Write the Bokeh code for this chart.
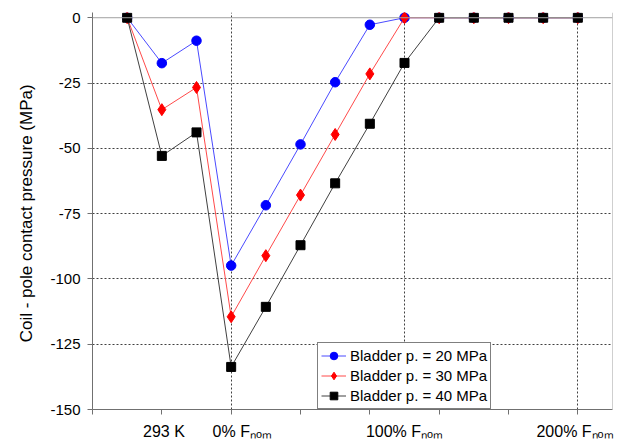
from bokeh.plotting import figure
from bokeh.models import (FixedTicker, Range1d, Legend, LegendItem, Span)
from bokeh.embed import file_html
from bokeh.resources import INLINE

# ---- data ----
steps = list(range(14))  # load steps: cool-down stages, then Fnom fractions
p20 = [0, -17.4, -8.8, -94.9, -71.8, -48.5, -24.7, -2.7, 0, 0, 0, 0, 0, 0]
p30 = [0, -35.2, -26.7, -114.5, -91.1, -67.9, -44.7, -21.5, 0, 0, 0, 0, 0, 0]
p40 = [0, -52.9, -43.9, -133.7, -110.7, -87.1, -63.4, -40.6, -17.3, 0, 0, 0, 0, 0]
series_labels = ["Bladder p. = 20 MPa", "Bladder p. = 30 MPa", "Bladder p. = 40 MPa"]
y_ticks = [0, -25, -50, -75, -100, -125, -150]
y_tick_labels = ["0", "-25", "-50", "-75", "-100", "-125", "-150"]
x_tick_pos = [1, 3, 8, 13]
x_tick_labels = ["293 K", "0% F\u2099\u2092\u2098", "100% F\u2099\u2092\u2098", "200% F\u2099\u2092\u2098"]

FONT = "Liberation Sans"

p = figure(width=616, height=442, output_backend="svg", toolbar_location=None,
           x_range=Range1d(-1, 14), y_range=Range1d(-150, 2),
           min_border_left=92, min_border_right=4, min_border_top=12,
           min_border_bottom=32)
p.background_fill_color = "white"
p.border_fill_color = "white"
p.outline_line_color = None

# axes
p.yaxis.ticker = FixedTicker(ticks=y_ticks)
p.yaxis.major_label_overrides = {t: s for t, s in zip(y_ticks, y_tick_labels)}
p.yaxis.major_label_text_font = FONT
p.yaxis.major_label_text_font_size = "15px"
p.yaxis.major_label_text_color = "black"
p.yaxis.major_label_standoff = 7
p.yaxis.major_tick_out = 5
p.yaxis.major_tick_in = 0
p.yaxis.minor_tick_line_color = None
p.yaxis.axis_line_color = "#707070"
p.yaxis.major_tick_line_color = "#707070"
p.yaxis.axis_label = "Coil - pole contact  pressure (MPa)"
p.yaxis.axis_label_text_font = FONT
p.yaxis.axis_label_text_font_size = "17px"
p.yaxis.axis_label_text_font_style = "normal"
p.yaxis.axis_label_text_color = "black"
p.yaxis.axis_label_standoff = 11

# label nudges (pixels converted to axis units: ~34.7 px per step)
label_nudge = [0.06, 0.32, 0.0, -0.08]
label_ticks = [x + n for x, n in zip(x_tick_pos, label_nudge)]
p.xaxis.ticker = FixedTicker(ticks=label_ticks, minor_ticks=[-1, 1, 3, 5, 7, 9, 11, 13])
p.xaxis.major_label_overrides = {t: s for t, s in zip(label_ticks, x_tick_labels)}
p.xaxis.major_label_text_font = FONT
p.xaxis.major_label_text_font_size = "16px"
p.xaxis.major_label_text_color = "black"
p.xaxis.major_label_standoff = 8
p.xaxis.major_tick_out = 0
p.xaxis.major_tick_in = 0
p.xaxis.major_tick_line_color = None
p.xaxis.minor_tick_out = 5
p.xaxis.minor_tick_in = 0
p.xaxis.minor_tick_line_color = "#707070"
p.xaxis.axis_line_color = "#707070"

# grids
p.ygrid.ticker = FixedTicker(ticks=[-25, -50, -75, -100, -125])
p.ygrid.grid_line_color = "#404040"
p.ygrid.grid_line_dash = "2 2"
p.ygrid.grid_line_width = 1
p.xgrid.ticker = FixedTicker(ticks=[3, 8, 13])
p.xgrid.grid_line_color = "#404040"
p.xgrid.grid_line_dash = "2 2"
p.xgrid.grid_line_width = 1

# frame top / right borders
p.add_layout(Span(location=0, dimension="width", line_color="#a0a0a0", line_width=1))
p.add_layout(Span(location=14, dimension="height", line_color="#a0a0a0", line_width=1))

# series
items = []
specs = [
    (p20, "#4a4aff", "blue", "circle", 9.5),
    (p30, "#ff4a4a", "red", "diamond", 12),
    (p40, "#404040", "black", "square", 9),
]
for (vals, lc, mc, marker, size), lab in zip(specs, series_labels):
    rl = p.line(steps, vals, line_color=lc, line_width=1)
    rs = p.scatter(steps, vals, marker=marker, size=size, fill_color=mc, line_color=mc)
    items.append(LegendItem(label=lab, renderers=[rl, rs]))

legend = Legend(items=items, location=(225, 0))
legend.label_text_font = FONT
legend.label_text_font_size = "15px"
legend.label_text_color = "black"
legend.label_height = 19
legend.glyph_height = 19
legend.glyph_width = 25
legend.label_standoff = 4
legend.padding = 3
legend.spacing = 1
legend.margin = 0
legend.border_line_color = "black"
legend.border_line_width = 1
legend.background_fill_alpha = 1
p.add_layout(legend)

open("out.html", "w").write(file_html(p, INLINE))
